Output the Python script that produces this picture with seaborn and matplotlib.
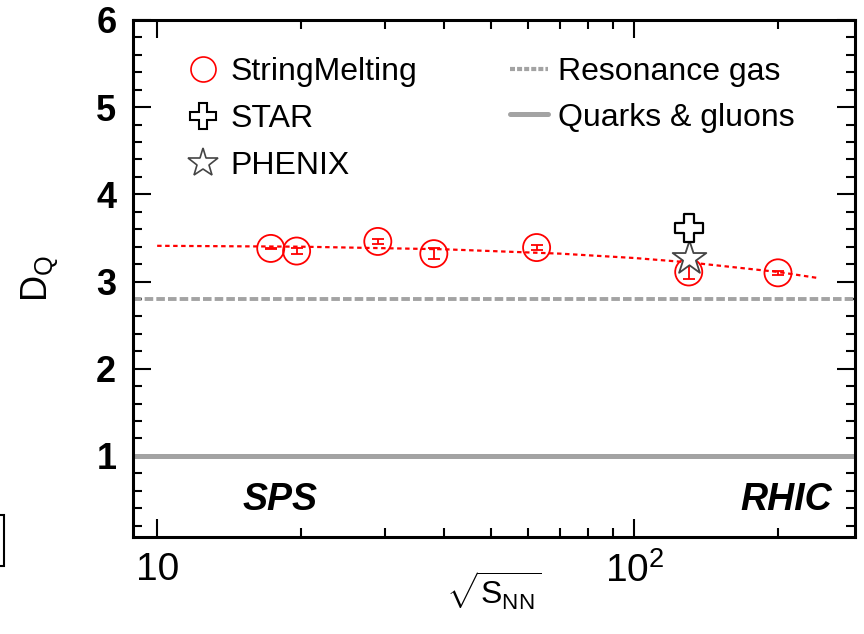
import numpy as np
import pandas as pd
import matplotlib
matplotlib.use("Agg")
import matplotlib.pyplot as plt
import seaborn as sns
from matplotlib.ticker import FixedLocator, NullFormatter, FixedFormatter
from matplotlib.lines import Line2D
from matplotlib.patches import Rectangle

# ---- data ----
sqrt_s = [17.3, 19.6, 29.0, 38.0, 62.4, 130.0, 200.0]
dq_sm = [3.38, 3.35, 3.46, 3.32, 3.39, 3.11, 3.10]
dq_sm_err = [0.01, 0.03, 0.03, 0.06, 0.03, 0.08, 0.02]
star_x = [130.0]
star_y = [3.61]
phenix_x = [130.0]
phenix_y = [3.27]
fit_x = [10, 20, 40, 70, 100, 130, 200, 243]
fit_y = [3.41, 3.40, 3.37, 3.32, 3.27, 3.22, 3.11, 3.04]
resonance_gas = 2.80
quarks_gluons = 1.0
y_ticks = [1, 2, 3, 4, 5, 6]
x_ticks = [10, 100]
x_tick_labels = ["10", r"$10^{2}$"]

sns.set_theme(style="ticks")
plt.rcParams["font.family"] = ["Liberation Sans", "DejaVu Sans"]
plt.rcParams["mathtext.fontset"] = "custom"
plt.rcParams["mathtext.rm"] = "Liberation Sans"
plt.rcParams["mathtext.it"] = "Liberation Sans:italic"
plt.rcParams["mathtext.sf"] = "Liberation Sans"
for k in ["text.color", "axes.labelcolor", "xtick.color", "ytick.color", "axes.edgecolor"]:
    plt.rcParams[k] = "black"

fig = plt.figure(figsize=(8.64, 6.34), dpi=100)
ax = fig.add_axes([133/864, 1-537/634, (855-133)/864, (537-20)/634])
ax.set_xscale("log")

gray = "#a3a3a3"
ax.axhline(resonance_gas, color=gray, lw=2.8, ls=(0, (2.2, 0.8)), zorder=1)
ax.axhline(quarks_gluons, color=gray, lw=3.6, ls="-", zorder=1)

sns.lineplot(x=fit_x, y=fit_y, ax=ax, color="red", lw=1.6,
             linestyle=(0, (2.0, 1.6)), zorder=2)

ax.errorbar(sqrt_s, dq_sm, yerr=dq_sm_err, fmt="none", ecolor="red",
            elinewidth=1.3, capsize=4, capthick=1.3, zorder=3)
sns.scatterplot(x=sqrt_s, y=dq_sm, ax=ax, marker="o", s=380,
                edgecolor="red", linewidth=1.3, zorder=4)
ax.collections[-1].set_facecolor("none")
sns.scatterplot(x=phenix_x, y=phenix_y, ax=ax, marker="*", s=650,
                color="white", edgecolor="#444444", linewidth=1.3, zorder=5)
sns.scatterplot(x=star_x, y=star_y, ax=ax, marker="P", s=420,
                color="white", edgecolor="black", linewidth=1.6, zorder=6)

ax.set_xlim(8.9, 290)
ax.set_ylim(0.07, 6)

ax.xaxis.set_major_locator(FixedLocator(x_ticks))
ax.xaxis.set_major_formatter(FixedFormatter(x_tick_labels))
ax.xaxis.set_minor_locator(FixedLocator([20, 30, 40, 50, 60, 70, 80, 90, 200]))
ax.xaxis.set_minor_formatter(NullFormatter())
ax.yaxis.set_major_locator(FixedLocator(y_ticks))
ax.yaxis.set_minor_locator(FixedLocator(np.arange(0.2, 6.0, 0.2)))

ax.tick_params(which="both", direction="in", top=True, right=True, width=1.5, color="black")
ax.tick_params(which="major", length=13)
ax.tick_params(which="minor", length=6.5)
ax.tick_params(axis="y", which="major", labelsize=26, pad=12)
ax.tick_params(axis="x", which="major", labelsize=28, pad=11)
for lab in ax.get_yticklabels():
    lab.set_fontweight("bold")
for sp in ax.spines.values():
    sp.set_linewidth(2.2)
    sp.set_color("black")

ax.set_ylabel(r"D$_{\mathrm{Q}}$", fontsize=26)
ax.yaxis.set_label_coords((61-133)/722, 0.5)
ax.set_xlabel(r"$\sqrt{\mathsf{S}_{\mathsf{NN}}}$", fontsize=23)
ax.xaxis.set_label_coords(0.5, (537-570)/517)

ax.text(0.203, 0.072, "SPS", transform=ax.transAxes, fontsize=27,
        fontweight="bold", fontstyle="italic", ha="center", va="center")
ax.text(0.905, 0.072, "RHIC", transform=ax.transAxes, fontsize=27,
        fontweight="bold", fontstyle="italic", ha="center", va="center")

h1 = [
    Line2D([], [], ls="none", marker="o", markersize=18, mfc="none", mec="red", mew=1.2),
    Line2D([], [], ls="none", marker="P", markersize=19, mfc="white", mec="black", mew=1.5),
    Line2D([], [], ls="none", marker="*", markersize=22, mfc="white", mec="#444444", mew=1.2),
]
leg1 = fig.legend(h1, ["StringMelting", "STAR", "PHENIX"], loc="upper left",
                  bbox_to_anchor=(189/864, 1-57/634), frameon=False, fontsize=23,
                  borderpad=0, handlelength=0.88, handletextpad=0.41, labelspacing=0.53,
                  borderaxespad=0)
h2 = [
    Line2D([], [], color=gray, lw=3.0, ls=(0, (1.2, 0.5))),
    Line2D([], [], color=gray, lw=3.6, ls="-"),
]
leg2 = fig.legend(h2, ["Resonance gas", "Quarks & gluons"], loc="upper left",
                  bbox_to_anchor=(510/864, 1-57/634), frameon=False, fontsize=23,
                  borderpad=0, handlelength=1.19, handletextpad=0.31, labelspacing=0.49,
                  borderaxespad=0)

fig.patches.append(Rectangle((-10/864, 1-566/634), 14/864, 51/634, transform=fig.transFigure,
                             fill=False, edgecolor="black", lw=1.5))

fig.savefig("out.png", dpi=100)
